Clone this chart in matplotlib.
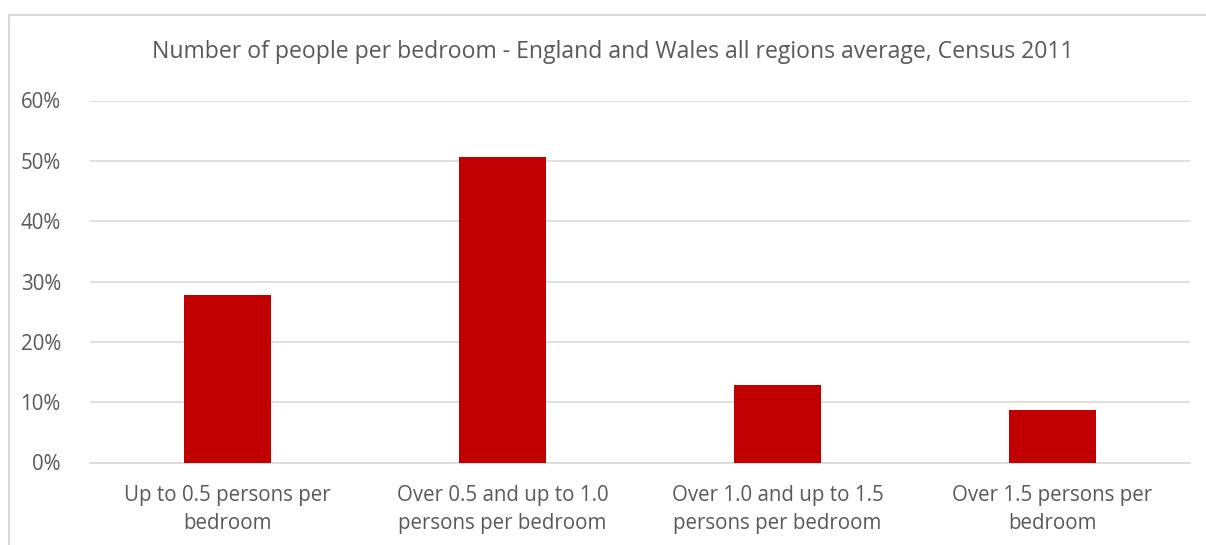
import numpy as np
import matplotlib.pyplot as plt
from matplotlib.patches import Rectangle
from matplotlib.ticker import PercentFormatter

categories = ["Up to 0.5 persons per\nbedroom",
              "Over 0.5 and up to 1.0\npersons per bedroom",
              "Over 1.0 and up to 1.5\npersons per bedroom",
              "Over 1.5 persons per\nbedroom"]
shares = [27.8, 50.7, 12.85, 8.7]
yticks = [0, 10, 20, 30, 40, 50, 60]
title = "Number of people per bedroom - England and Wales all regions average, Census 2011"

plt.rcParams['font.family'] = ['Open Sans', 'DejaVu Sans']

fig = plt.figure(figsize=(12.06, 5.45), dpi=100)
ax = fig.add_axes([90 / 1206, 1 - 462.5 / 545, 1100 / 1206, 362 / 545])

# outer chart border (only left and top visible in the reference)
fig.patches.append(Rectangle((8.5 / 1206, -0.1), 1.2, 1 - 14.5 / 545 + 0.1,
                             transform=fig.transFigure, fill=False,
                             edgecolor="#d9d9d9", linewidth=1.5))

x = np.arange(len(categories))
ax.bar(x, shares, width=0.313, color="#c00000", zorder=3)

ax.set_xlim(-0.5, len(categories) - 0.5)
ax.set_ylim(0, 60)
ax.set_yticks(yticks)
ax.yaxis.set_major_formatter(PercentFormatter(decimals=0))
ax.grid(axis="y", color="#d9d9d9", linewidth=1.2, zorder=0)
for s in ["top", "right", "left"]:
    ax.spines[s].set_visible(False)
ax.spines["bottom"].set_color("#d9d9d9")
ax.spines["bottom"].set_linewidth(1.2)

ax.set_xticks(x)
ax.set_xticklabels(categories, fontsize=14.8, color="#595959", linespacing=1.45)
ax.tick_params(axis="x", length=0, pad=16)
ax.tick_params(axis="y", length=0, pad=21, labelsize=14.8, labelcolor="#595959")

fig.text(613 / 1206, 1 - 52 / 545, title, ha="center", va="center",
         fontsize=16.6, color="#595959")

fig.savefig("out.png", dpi=100)
